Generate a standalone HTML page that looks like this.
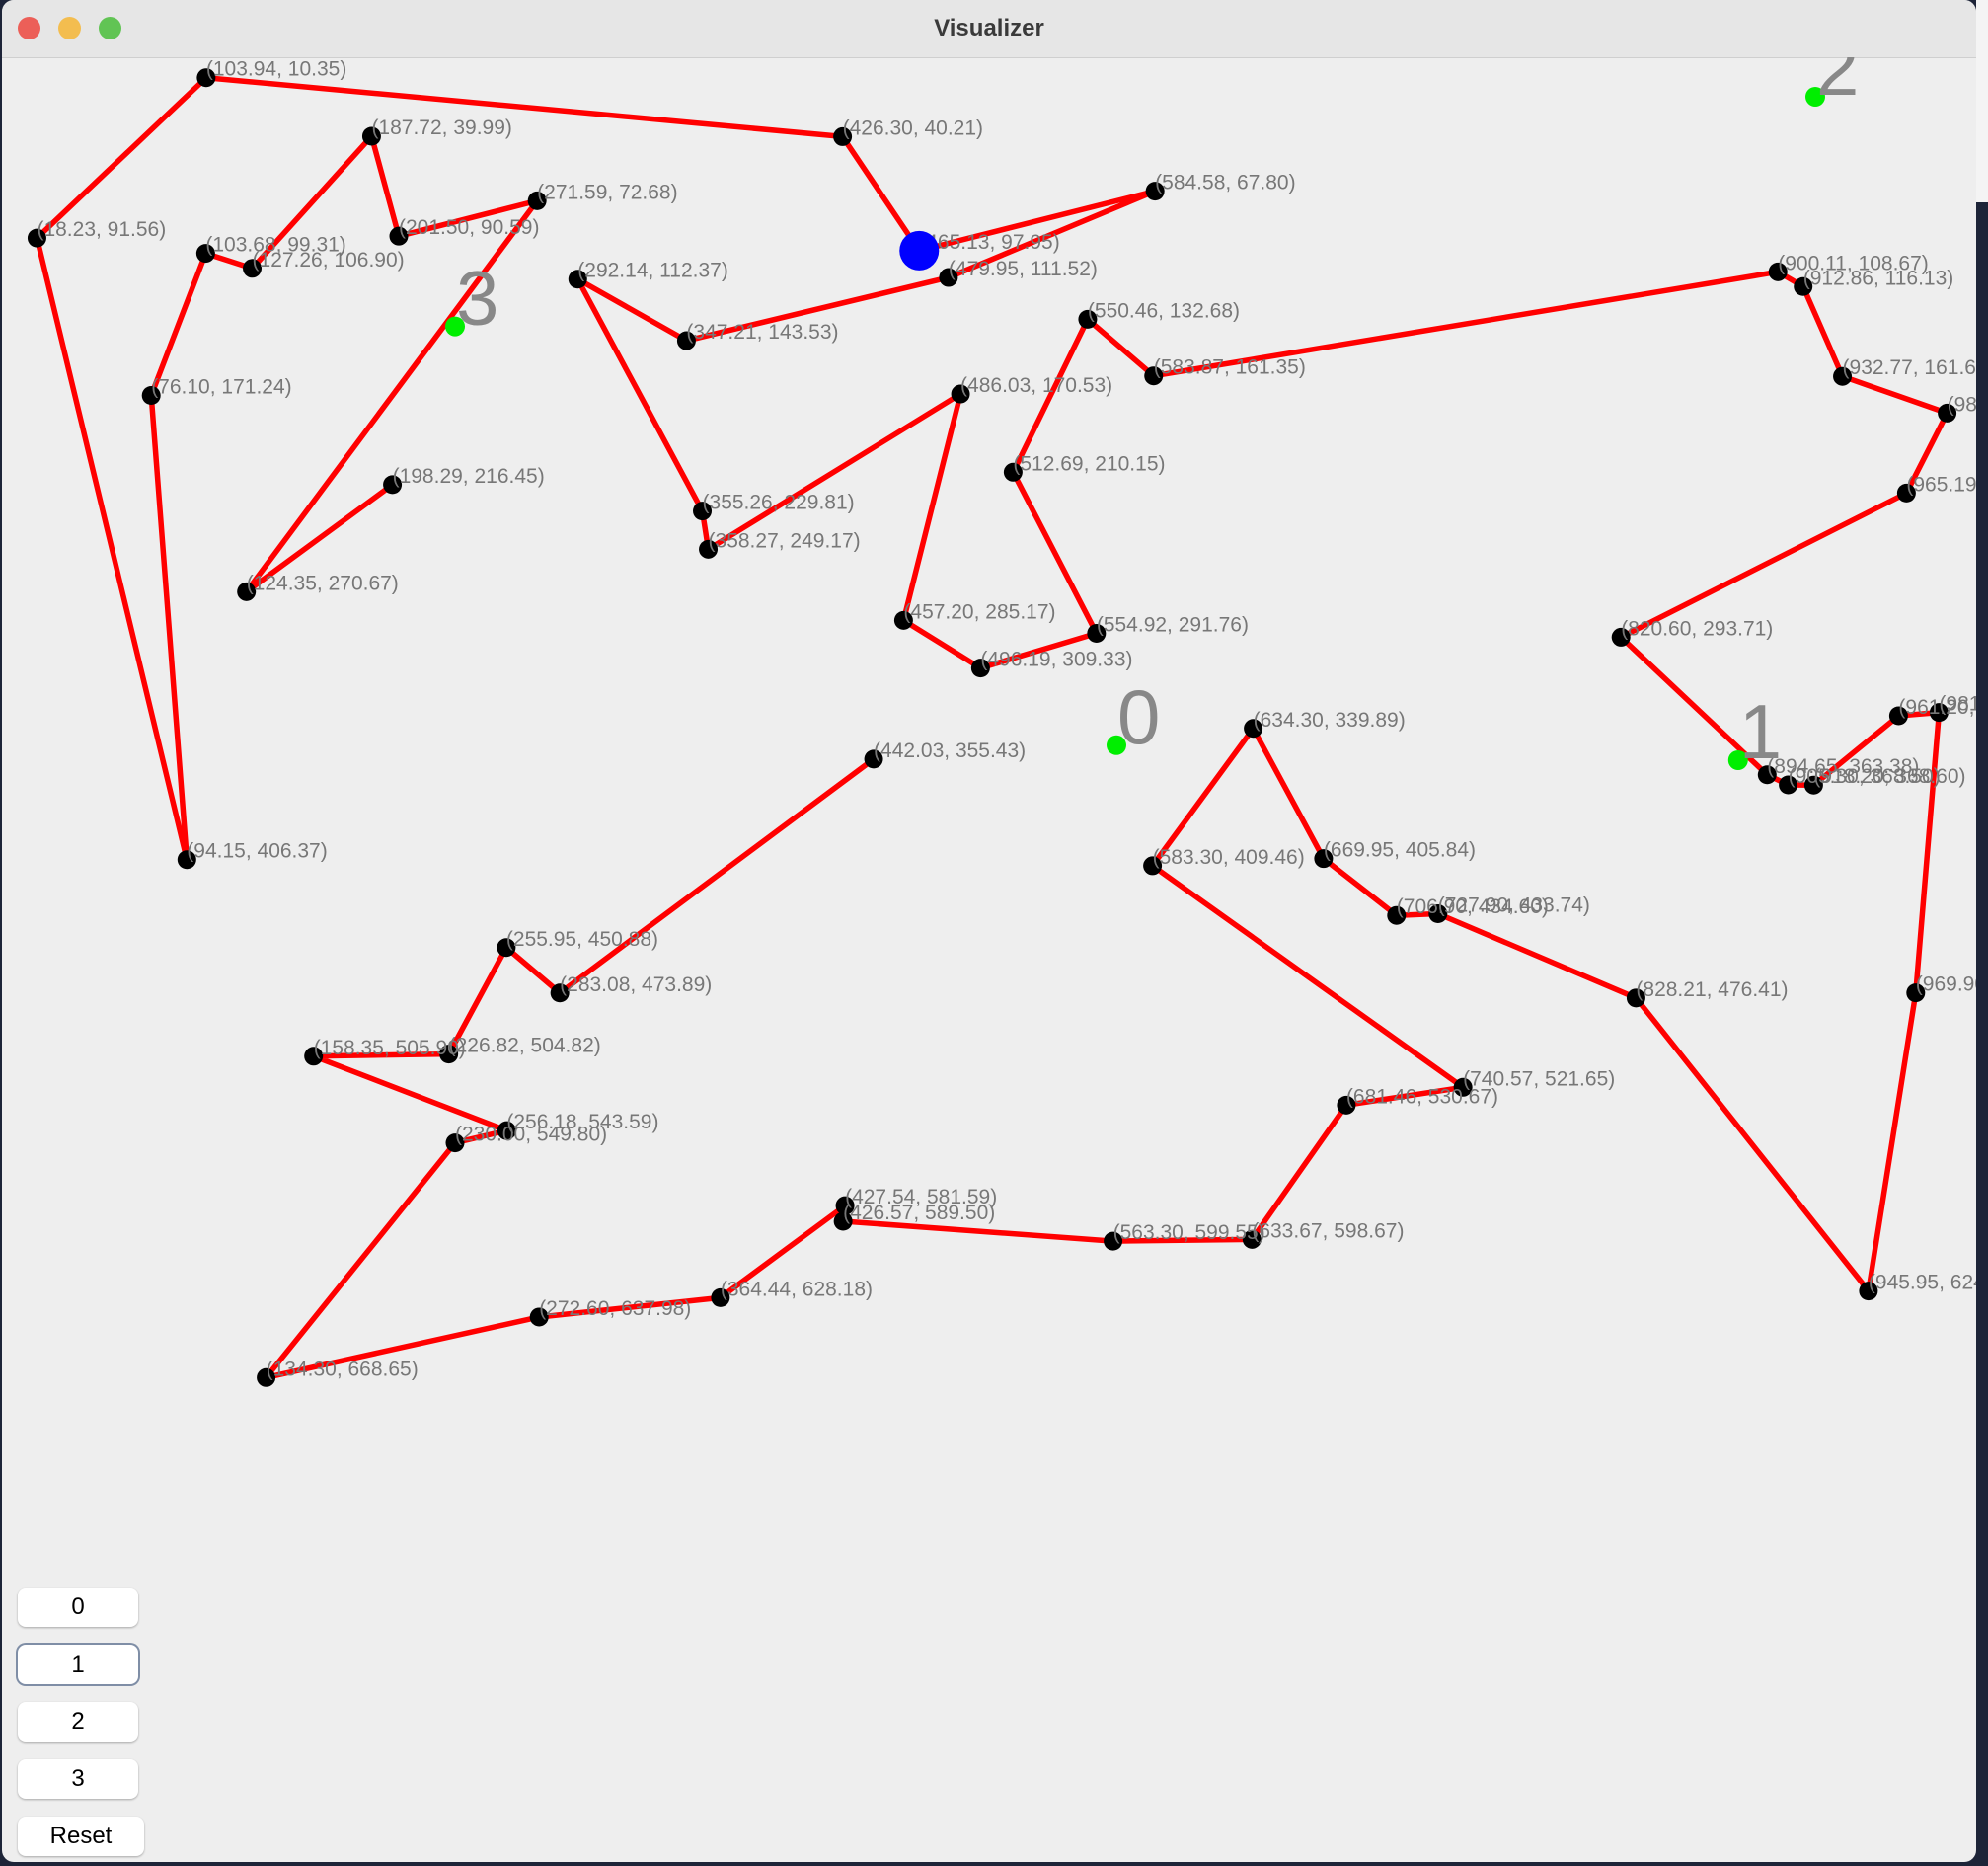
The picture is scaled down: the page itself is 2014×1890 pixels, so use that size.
<!DOCTYPE html>
<html><head><meta charset="utf-8"><style>
html,body{margin:0;padding:0;width:2014px;height:1890px;overflow:hidden;background:#1d2438;font-family:"Liberation Sans",sans-serif}
#win{position:absolute;left:2px;top:0;width:2000px;height:1886px;background:#eeeeee;border-radius:12px;overflow:hidden}
#title{position:absolute;left:0;top:0;width:2000px;height:58px;background:#e6e6e6;border-bottom:1px solid #cfcfcf;text-align:center;line-height:58px;font-size:24px;font-weight:bold;color:#3a3a3a}
.tl{position:absolute;top:17px;width:23px;height:23px;border-radius:50%}
.btn{position:absolute;left:16px;width:122px;height:40px;background:#fff;border-radius:8px;box-shadow:0 1px 2px rgba(0,0,0,.3);text-align:center;line-height:40px;font-size:24px;color:#000}
</style></head><body>
<div style="position:absolute;left:2002px;top:0;width:12px;height:205px;background:#f4f4f4"></div>
<div id="win">
<div id="title">Visualizer
<div class="tl" style="left:16px;background:#ec5f58"></div>
<div class="tl" style="left:57px;background:#f3bd4f"></div>
<div class="tl" style="left:98px;background:#61c454"></div>
</div>
<svg id="chart" width="2000" height="1828" style="position:absolute;left:0;top:58px"></svg>
<div class="btn" style="top:1608px">0</div>
<div class="btn" style="top:1666px;box-shadow:0 0 0 2px #7f8ea6">1</div>
<div class="btn" style="top:1724px">2</div>
<div class="btn" style="top:1782px">3</div>
<div class="btn" style="top:1840px;width:128px">Reset</div>
</div>
<script>
const routeX=[198.29,124.35,271.59,201.50,187.72,127.26,103.68,76.10,94.15,18.23,103.94,426.30,465.13,584.58,479.95,347.21,292.14,355.26,358.27,486.03,457.20,496.19,554.92,512.69,550.46,583.87,900.11,912.86,932.77,985.80,965.19,820.60,894.65,905.30,918.20,961.20,981.70,969.90,945.95,828.21,727.90,706.90,669.95,634.30,583.30,740.57,681.46,633.67,563.30,426.57,427.54,364.44,272.60,134.30,230.00,256.18,158.35,226.82,255.95,283.08,442.03];
const routeY=[216.45,270.67,72.68,90.59,39.99,106.90,99.31,171.24,406.37,91.56,10.35,40.21,97.95,67.80,111.52,143.53,112.37,229.81,249.17,170.53,285.17,309.33,291.76,210.15,132.68,161.35,108.67,116.13,161.60,180.20,220.70,293.71,363.38,368.50,368.60,333.50,331.80,473.80,624.80,476.41,433.74,434.60,405.84,339.89,409.46,521.65,530.67,598.67,599.55,589.50,581.59,628.18,637.98,668.65,549.80,543.59,505.90,504.82,450.88,473.89,355.43];
const depotX=[565.0,879.9,919.0,230.0];
const depotY=[348.4,356.0,20.0,136.3];
const depotLabels=["0","1","2","3"];
const currentX=[465.13], currentY=[97.95];
const NS="http://www.w3.org/2000/svg";
const svg=document.getElementById('chart');
const sx=v=>2*v-1, sy=v=>2*v;
function mk(t,a){const e=document.createElementNS(NS,t);for(const k in a)e.setAttribute(k,a[k]);svg.appendChild(e);return e;}
let d=routeX.map((x,i)=>(i?'L':'M')+sx(x)+','+sy(routeY[i])).join(' ');
const path=mk('path',{d:d,fill:'none',stroke:'#ff0000','stroke-width':5.5,'stroke-linejoin':'round'});


routeX.forEach((x,i)=>{const c=mk('circle',{cx:sx(x),cy:sy(routeY[i]),r:9.5,fill:'#000'});

});
routeX.forEach((x,i)=>{const t=mk('text',{x:sx(x),y:sy(routeY[i])-2,'font-size':21,fill:'#777','font-family':'Liberation Sans, sans-serif'});
t.textContent='('+x.toFixed(2)+', '+routeY[i].toFixed(2)+')';

});
currentX.forEach((x,i)=>{const c=mk('circle',{cx:sx(x),cy:sy(currentY[i]),r:20,fill:'#0000ff'});

});
depotX.forEach((x,i)=>{const c=mk('circle',{cx:sx(x),cy:sy(depotY[i]),r:10,fill:'#00ee00'});


const t=mk('text',{x:sx(x)+1,y:sy(depotY[i])-2,'font-size':78,fill:'#888','font-family':'Liberation Sans, sans-serif'});
t.textContent=depotLabels[i];

});
</script>
</body></html>
